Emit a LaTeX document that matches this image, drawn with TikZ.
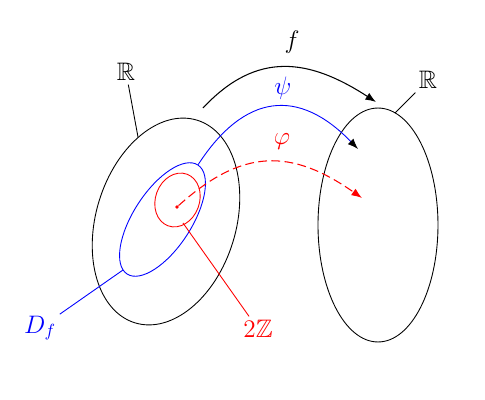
\documentclass[tikz,border=0pt]{standalone}
\usepackage{amssymb}
\usetikzlibrary{shapes.geometric, arrows.meta}

\begin{document}
\begin{tikzpicture}[
    x=0.02cm, y=0.02cm,
    set/.style={ellipse, draw=#1, inner sep=0pt, line width=0.5pt},
    set/.default=black,
    lbl/.style={font=\Large, text=#1, inner sep=2pt},
    lbl/.default=black,
    pin/.style={draw=#1, line width=0.5pt},
    pin/.default=black,
    map/.style={-{Latex[length=6pt, width=4.5pt, color=#1]}},
    map/.default=black
]
\useasboundingbox (0,0) rectangle (485,400);

% ===================================================================
% SETS
% ===================================================================
\node[set, minimum width=2.8cm, minimum height=4.24cm, rotate=-17]
    (dom) at (166,178.5) {};
\node[set=blue, minimum width=1.16cm, minimum height=2.6cm, rotate=-33]
    (df) at (162.5,180.5) {};
\node[set=red, minimum width=0.88cm, minimum height=1.1cm, rotate=-20]
    (zz) at (177.5,200) {};
\node[circle, fill=red, inner sep=0pt, minimum size=2pt] (dot) at (177,193) {};
\node[set, minimum width=2.4cm, minimum height=4.68cm]
    (cod) at (378,175) {};

% ===================================================================
% LABELS
% ===================================================================
\node[lbl] (domlbl) at (126,328) {$\mathbb{R}$};
\node[lbl] (codlbl) at (428,320) {$\mathbb{R}$};
\node[lbl=blue] (dflbl) at (40,72) {$D_f$};
\node[lbl=red] (zzlbl) at (258,71) {$2\mathbb{Z}$};
\node[lbl] (flbl) at (292,358) {$f$};
\node[lbl=blue] (psilbl) at (283,312) {$\psi$};
\node[lbl=red] (philbl) at (282,258) {$\varphi$};

\coordinate (domtip) at (138,263);
\coordinate (codtip) at (395,287);
\coordinate (dftip) at (123,130);
\coordinate (zztip) at (183,177);
\coordinate (fstart) at (203,292);
\coordinate (fend) at (376,298);
\coordinate (psiend) at (358,251);
\coordinate (phiend) at (362,202);

\draw[pin] (domlbl) -- (domtip);
\draw[pin] (codlbl) -- (codtip);
\draw[pin=blue] (dflbl) -- (dftip);
\draw[pin=red] (zzlbl) -- (zztip);

% ===================================================================
% MAPS
% ===================================================================
\draw[map, semithick] (fstart) to[out=47, in=147, looseness=1.17] (fend);
\draw[map, blue, line width=0.5pt] (df.north)
    to[out=57, in=134, looseness=1.36] (psiend);
\draw[map=red, red, line width=0.6pt, dash pattern=on 5pt off 2.5pt]
    (dot) to[out=42, in=145, looseness=1.2] (phiend);

\end{tikzpicture}
\end{document}
